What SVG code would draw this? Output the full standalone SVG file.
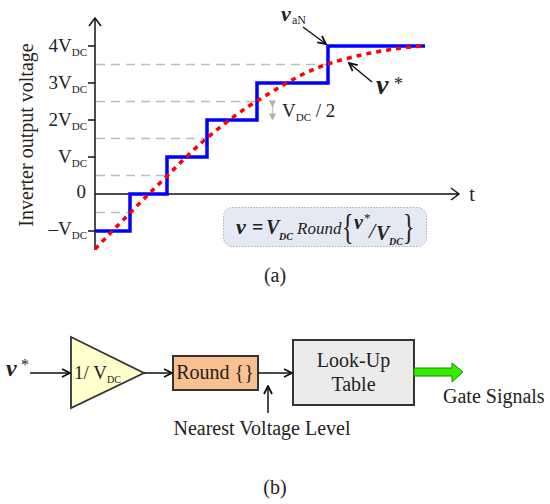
<svg xmlns="http://www.w3.org/2000/svg" width="550" height="504" viewBox="0 0 550 504">
<defs>
<style>
text{font-family:"Liberation Serif","Times New Roman",serif;fill:#222}
.tick{font-size:19px}
.sub{font-size:11px}
.grid{stroke:#bdbdbd;stroke-width:1.5;stroke-dasharray:9 6;fill:none}
.axis{stroke:#111;stroke-width:1.5;fill:none}
.conn{stroke:#111;stroke-width:1.5;fill:none}
.mi{font-style:italic;font-weight:bold}
.box{stroke:#333;stroke-width:2}
.lbl{font-size:20px}
</style>
<marker id="open" viewBox="0 0 10 10" refX="9" refY="5" markerWidth="10" markerHeight="10" markerUnits="userSpaceOnUse" orient="auto">
<path d="M1,1 L9,5 L1,9" fill="none" stroke="#111" stroke-width="1.8"/>
</marker>
<marker id="grayhead" viewBox="0 0 10 10" refX="5" refY="5" markerWidth="9" markerHeight="7" markerUnits="userSpaceOnUse" orient="auto">
<path d="M0,0 L10,5 L0,10 Z" fill="#b0b0b0"/>
</marker>
</defs>

<!-- (a) waveform plot -->
<g id="grid">
<line class="grid" x1="96" y1="64.5" x2="328" y2="64.5"/>
<line class="grid" x1="96" y1="101.5" x2="257" y2="101.5"/>
<line class="grid" x1="96" y1="138.5" x2="207" y2="138.5"/>
<line class="grid" x1="96" y1="175.5" x2="167" y2="175.5"/>
<line class="grid" x1="96" y1="212.5" x2="130" y2="212.5"/>
</g>

<g id="axes">
<line class="axis" x1="95" y1="250" x2="95" y2="18"/>
<path class="axis" d="M89,26 L95,18 L101,26" stroke-width="2"/>
<line class="axis" x1="95" y1="194" x2="459" y2="194"/>
<path class="axis" d="M451,188 L459,194 L451,200" stroke-width="2"/>
<line class="axis" x1="88" y1="46" x2="95" y2="46"/>
<line class="axis" x1="88" y1="83" x2="95" y2="83"/>
<line class="axis" x1="88" y1="120" x2="95" y2="120"/>
<line class="axis" x1="88" y1="157" x2="95" y2="157"/>
<line class="axis" x1="88" y1="231" x2="95" y2="231"/>
<text x="472" y="201" class="lbl" text-anchor="middle">t</text>
</g>

<g id="ylabels">
<text class="tick" x="87" y="52" text-anchor="end">4V<tspan class="sub" dy="4">DC</tspan></text>
<text class="tick" x="87" y="89" text-anchor="end">3V<tspan class="sub" dy="4">DC</tspan></text>
<text class="tick" x="87" y="126" text-anchor="end">2V<tspan class="sub" dy="4">DC</tspan></text>
<text class="tick" x="87" y="163" text-anchor="end">V<tspan class="sub" dy="4">DC</tspan></text>
<text class="tick" x="86" y="198" text-anchor="end">0</text>
<text class="tick" x="87" y="235" text-anchor="end">–V<tspan class="sub" dy="4">DC</tspan></text>
<text class="lbl" transform="translate(33 135) rotate(-90)" text-anchor="middle">Inverter output voltage</text>
</g>

<g id="staircase">
<path d="M95,231 H130 V194 H167 V157 H207 V120 H257 V83 H328 V46 H425" fill="none" stroke="#0000ff" stroke-width="3.5"/>
</g>

<g id="reference">
<path d="M95,249 C106.7,237 118,225.2 130,213 C142,200.8 154.2,188.5 167,176 C179.8,163.5 192,150.5 207,138 C222,125.5 236.8,113.3 257,101 C277.2,88.7 300,73.2 328,64 C356,54.8 392.7,47.7 425,46" fill="none" stroke="#ff0000" stroke-width="3.5" stroke-dasharray="5 5"/>
</g>

<g id="halfstep">
<line x1="272.5" y1="104" x2="272.5" y2="117" stroke="#c8c8c8" stroke-width="1.5" marker-start="url(#grayhead)" marker-end="url(#grayhead)"/>
<text x="282" y="117" class="tick" fill="#333">V<tspan class="sub" dy="4">DC</tspan><tspan dy="-4"> / 2</tspan></text>
</g>

<g id="label-vaN">
<text x="281" y="21" class="mi" font-size="22">v</text>
<text x="292" y="24" font-size="12">aN</text>
<line class="conn" x1="303" y1="27" x2="326" y2="44" marker-end="url(#open)"/>
</g>

<g id="label-vstar">
<text x="376" y="94" class="mi" font-size="28">v</text>
<text x="394" y="90" font-size="18">*</text>
<line class="conn" x1="372" y1="82" x2="349" y2="63" marker-end="url(#open)"/>
</g>

<g id="formula">
<rect x="223.5" y="207.5" width="203" height="39" rx="9" fill="#e4e9f3" stroke="#aaaaaa" stroke-width="1" stroke-dasharray="1.5 1.5"/>
<text x="236" y="234" class="mi" font-size="22">v</text>
<text x="252" y="234" font-weight="bold" font-size="20">=</text>
<text x="266" y="234" class="mi" font-size="20">V</text>
<text x="279" y="240" class="mi" font-size="10">DC</text>
<text x="297" y="234" font-style="italic" font-size="17">Round</text>
<text transform="translate(342 239) scale(1 1.45)" font-size="24">{</text>
<text x="354" y="229" class="mi" font-size="20">v</text>
<text x="364" y="222" font-size="13">*</text>
<text x="369" y="238" font-style="italic" font-size="22">/</text>
<text x="376" y="240" class="mi" font-size="20">V</text>
<text x="389" y="245" class="mi" font-size="10">DC</text>
<text transform="translate(403 239) scale(1 1.45)" font-size="24">}</text>
</g>

<text x="275" y="282" class="lbl" text-anchor="middle">(a)</text>

<!-- (b) block diagram -->
<g id="input">
<text x="6" y="376" class="mi" font-size="24">v</text>
<text x="21" y="370" font-size="16">*</text>
</g>

<g id="gain">
<path d="M71,337 L144,373 L71,408 Z" fill="#ffffcc" stroke="#333" stroke-width="1.8"/>
<text x="74" y="379" font-size="19">1/ V<tspan font-size="10" dy="4">DC</tspan></text>
</g>

<g id="round">
<rect x="173" y="356" width="85" height="34" fill="#fac090" class="box"/>
<text x="215" y="379" font-size="20" text-anchor="middle">Round {}</text>
</g>

<g id="lookup">
<rect x="293" y="340" width="121" height="65" fill="#ebebeb" class="box"/>
<text x="353.5" y="367" font-size="20" text-anchor="middle">Look-Up</text>
<text x="353.5" y="391" font-size="20" text-anchor="middle">Table</text>
</g>

<g id="connectors">
<line class="conn" x1="30" y1="373" x2="70" y2="373" marker-end="url(#open)"/>
<line class="conn" x1="144" y1="373" x2="172" y2="373" marker-end="url(#open)"/>
<line class="conn" x1="258" y1="373" x2="292" y2="373" marker-end="url(#open)"/>
<line class="conn" x1="268" y1="413" x2="268" y2="386" marker-end="url(#open)"/>
<path d="M414,368 H452 V363 L463,372 L452,382 V376 H414 Z" fill="#33ee00" stroke="#228800" stroke-width="1"/>
</g>

<g id="labels-b">
<text x="262" y="435" font-size="20" text-anchor="middle">Nearest Voltage Level</text>
<text x="443" y="403" font-size="20">Gate Signals</text>
<text x="275" y="494" class="lbl" text-anchor="middle">(b)</text>
</g>
</svg>
